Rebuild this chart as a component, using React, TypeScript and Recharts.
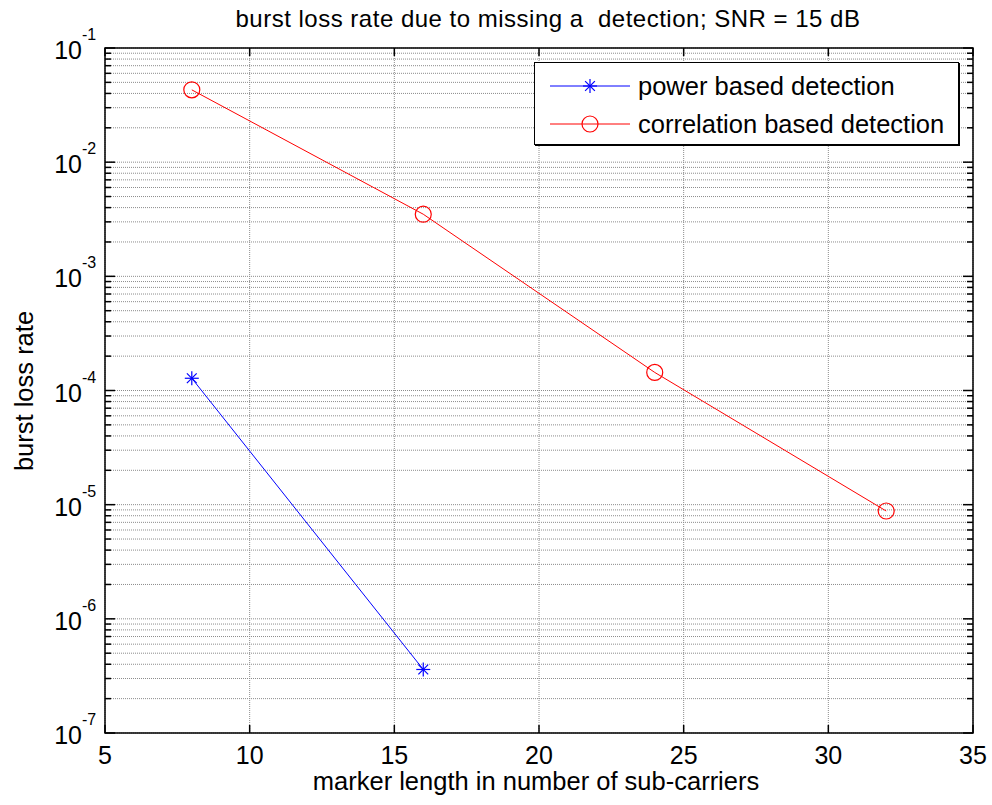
import React from "react";
import {
  LineChart,
  Line,
  XAxis,
  YAxis,
  CartesianGrid,
  ReferenceArea,
} from "recharts";

const markerLength = [8, 16, 24, 32];
const powerBased = [1.28e-4, 3.6e-7, null, null];
const correlationBased = [4.3e-2, 3.5e-3, 1.44e-4, 8.8e-6];

const xTicks = [5, 10, 15, 20, 25, 30, 35];
const decadeExponents = [-7, -6, -5, -4, -3, -2, -1];
const minorMultipliers = [2, 3, 4, 5, 6, 7, 8, 9];

const data = markerLength.map((x, i) => ({
  x,
  power: powerBased[i],
  corr: correlationBased[i],
}));

const yTicks: number[] = [];
decadeExponents.forEach((e) => {
  yTicks.push(Math.pow(10, e));
  if (e < -1) minorMultipliers.forEach((m) => yTicks.push(m * Math.pow(10, e)));
});

const FONT = "'Liberation Sans', Arial, sans-serif";

const isMajor = (v: number) => {
  const l = Math.log10(v);
  return Math.abs(l - Math.round(l)) < 1e-6;
};

const LeftTick = (props: any) => {
  const { x, y, payload } = props;
  const major = isMajor(payload.value);
  const len = major ? 10 : 6;
  return (
    <g>
      <line x1={x} x2={x + len} y1={y} y2={y} stroke="#000" strokeWidth={1.5} />
      {major && (
        <text fontFamily={FONT} fill="#000">
          <tspan x={x - 23} y={y + 11} fontSize={25} textAnchor="end">
            10
          </tspan>
          <tspan x={x - 23} y={y - 8} fontSize={16} textAnchor="start">
            {Math.round(Math.log10(payload.value))}
          </tspan>
        </text>
      )}
    </g>
  );
};

const RightTick = (props: any) => {
  const { x, y, payload } = props;
  const len = isMajor(payload.value) ? 10 : 6;
  return <line x1={x} x2={x - len} y1={y} y2={y} stroke="#000" strokeWidth={1.5} />;
};

const BottomTick = (props: any) => {
  const { x, y, payload } = props;
  return (
    <g>
      <line x1={x} x2={x} y1={y} y2={y - 8} stroke="#000" strokeWidth={1.5} />
      <text x={x} y={y + 31} textAnchor="middle" fontFamily={FONT} fontSize={25} fill="#000">
        {payload.value}
      </text>
    </g>
  );
};

const TopTick = (props: any) => {
  const { x, y } = props;
  return <line x1={x} x2={x} y1={y} y2={y + 8} stroke="#000" strokeWidth={1.5} />;
};

const StarDot = (props: any) => {
  const { cx, cy } = props;
  if (cx == null || cy == null || props.value == null) return null;
  const r = 7;
  const d = r * 0.7;
  return (
    <g stroke="#0000ff" strokeWidth={1.2}>
      <line x1={cx - r} x2={cx + r} y1={cy} y2={cy} />
      <line x1={cx} x2={cx} y1={cy - r} y2={cy + r} />
      <line x1={cx - d} x2={cx + d} y1={cy - d} y2={cy + d} />
      <line x1={cx - d} x2={cx + d} y1={cy + d} y2={cy - d} />
    </g>
  );
};

const CircleDot = (props: any) => {
  const { cx, cy } = props;
  if (cx == null || cy == null) return null;
  return <circle cx={cx} cy={cy} r={8} fill="none" stroke="#ff0000" strokeWidth={1.2} />;
};

const legendItems = [
  { label: "power based detection", color: "#0000ff", star: true },
  { label: "correlation based detection", color: "#ff0000", star: false },
];

const LegendBox = () => (
  <div
    style={{
      position: "absolute",
      left: 534,
      top: 62,
      width: 425,
      height: 83,
      border: "1px solid #000",
      boxShadow: "1px 1px 0 #000",
      background: "#fff",
      fontFamily: FONT,
      fontSize: 25.5,
      color: "#000",
      boxSizing: "border-box",
    }}
  >
    {legendItems.map((it, i) => (
      <div key={i} style={{ display: "flex", alignItems: "center", height: 38, marginTop: i === 0 ? 4 : 0 }}>
        <svg width={103} height={30} style={{ flex: "none" }}>
          <line x1={15} x2={95} y1={15} y2={15} stroke={it.color} strokeWidth={1} />
          {it.star ? <StarDot cx={55} cy={15} value={1} /> : <CircleDot cx={55} cy={15} />}
        </svg>
        <span style={{ whiteSpace: "nowrap" }}>{it.label}</span>
      </div>
    ))}
  </div>
);

export default function App() {
  return (
    <div style={{ position: "absolute", left: 0, top: 0, width: 992, height: 805, background: "#fff" }}>
      <LineChart
        width={992}
        height={805}
        data={data}
        margin={{ top: 47, right: 18, bottom: 71, left: 104 }}
        style={{ position: "absolute", left: 0, top: 0 }}
      >
        <CartesianGrid stroke="#8c8c8c" strokeDasharray="1 1" />
        <XAxis
          dataKey="x"
          type="number"
          domain={[5, 35]}
          ticks={xTicks}
          orientation="bottom"
          height={1}
          tickSize={0}
          tickMargin={0}
          tickLine={false}
          axisLine={false}
          tick={<BottomTick />}
          interval={0}
        />
        <XAxis
          xAxisId="t"
          dataKey="x"
          type="number"
          domain={[5, 35]}
          ticks={xTicks}
          orientation="top"
          height={1}
          tickSize={0}
          tickMargin={0}
          tickLine={false}
          axisLine={false}
          tick={<TopTick />}
          interval={0}
        />
        <YAxis
          scale="log"
          domain={[1e-7, 1e-1]}
          ticks={yTicks}
          allowDataOverflow
          width={1}
          tickSize={0}
          tickMargin={0}
          tickLine={false}
          axisLine={false}
          tick={<LeftTick />}
          interval={0}
        />
        <YAxis
          yAxisId="r"
          orientation="right"
          scale="log"
          domain={[1e-7, 1e-1]}
          ticks={yTicks}
          allowDataOverflow
          width={1}
          tickSize={0}
          tickMargin={0}
          tickLine={false}
          axisLine={false}
          tick={<RightTick />}
          interval={0}
        />
        <ReferenceArea
          x1={5}
          x2={35}
          y1={1e-7}
          y2={1e-1}
          fill="none"
          stroke="#000"
          strokeWidth={1.5}
          fillOpacity={0}
        />
        <Line
          dataKey="power"
          stroke="#0000ff"
          strokeWidth={1}
          dot={<StarDot />}
          isAnimationActive={false}
          connectNulls={false}
        />
        <Line
          dataKey="corr"
          stroke="#ff0000"
          strokeWidth={1}
          dot={<CircleDot />}
          isAnimationActive={false}
        />
      </LineChart>
      <svg
        width={992}
        height={805}
        style={{ position: "absolute", left: 0, top: 0, pointerEvents: "none" }}
        fontFamily={FONT}
        fill="#000"
      >
        <text x={548} y={27} fontSize={24} letterSpacing={0.5} textAnchor="middle" xmlSpace="preserve">
          {"burst loss rate due to missing a  detection; SNR = 15 dB"}
        </text>
        <text x={536} y={790} fontSize={25.5} textAnchor="middle">
          marker length in number of sub-carriers
        </text>
        <text x={33} y={391} fontSize={25.5} textAnchor="middle" transform="rotate(-90 33 391)">
          burst loss rate
        </text>
      </svg>
      <LegendBox />
    </div>
  );
}
